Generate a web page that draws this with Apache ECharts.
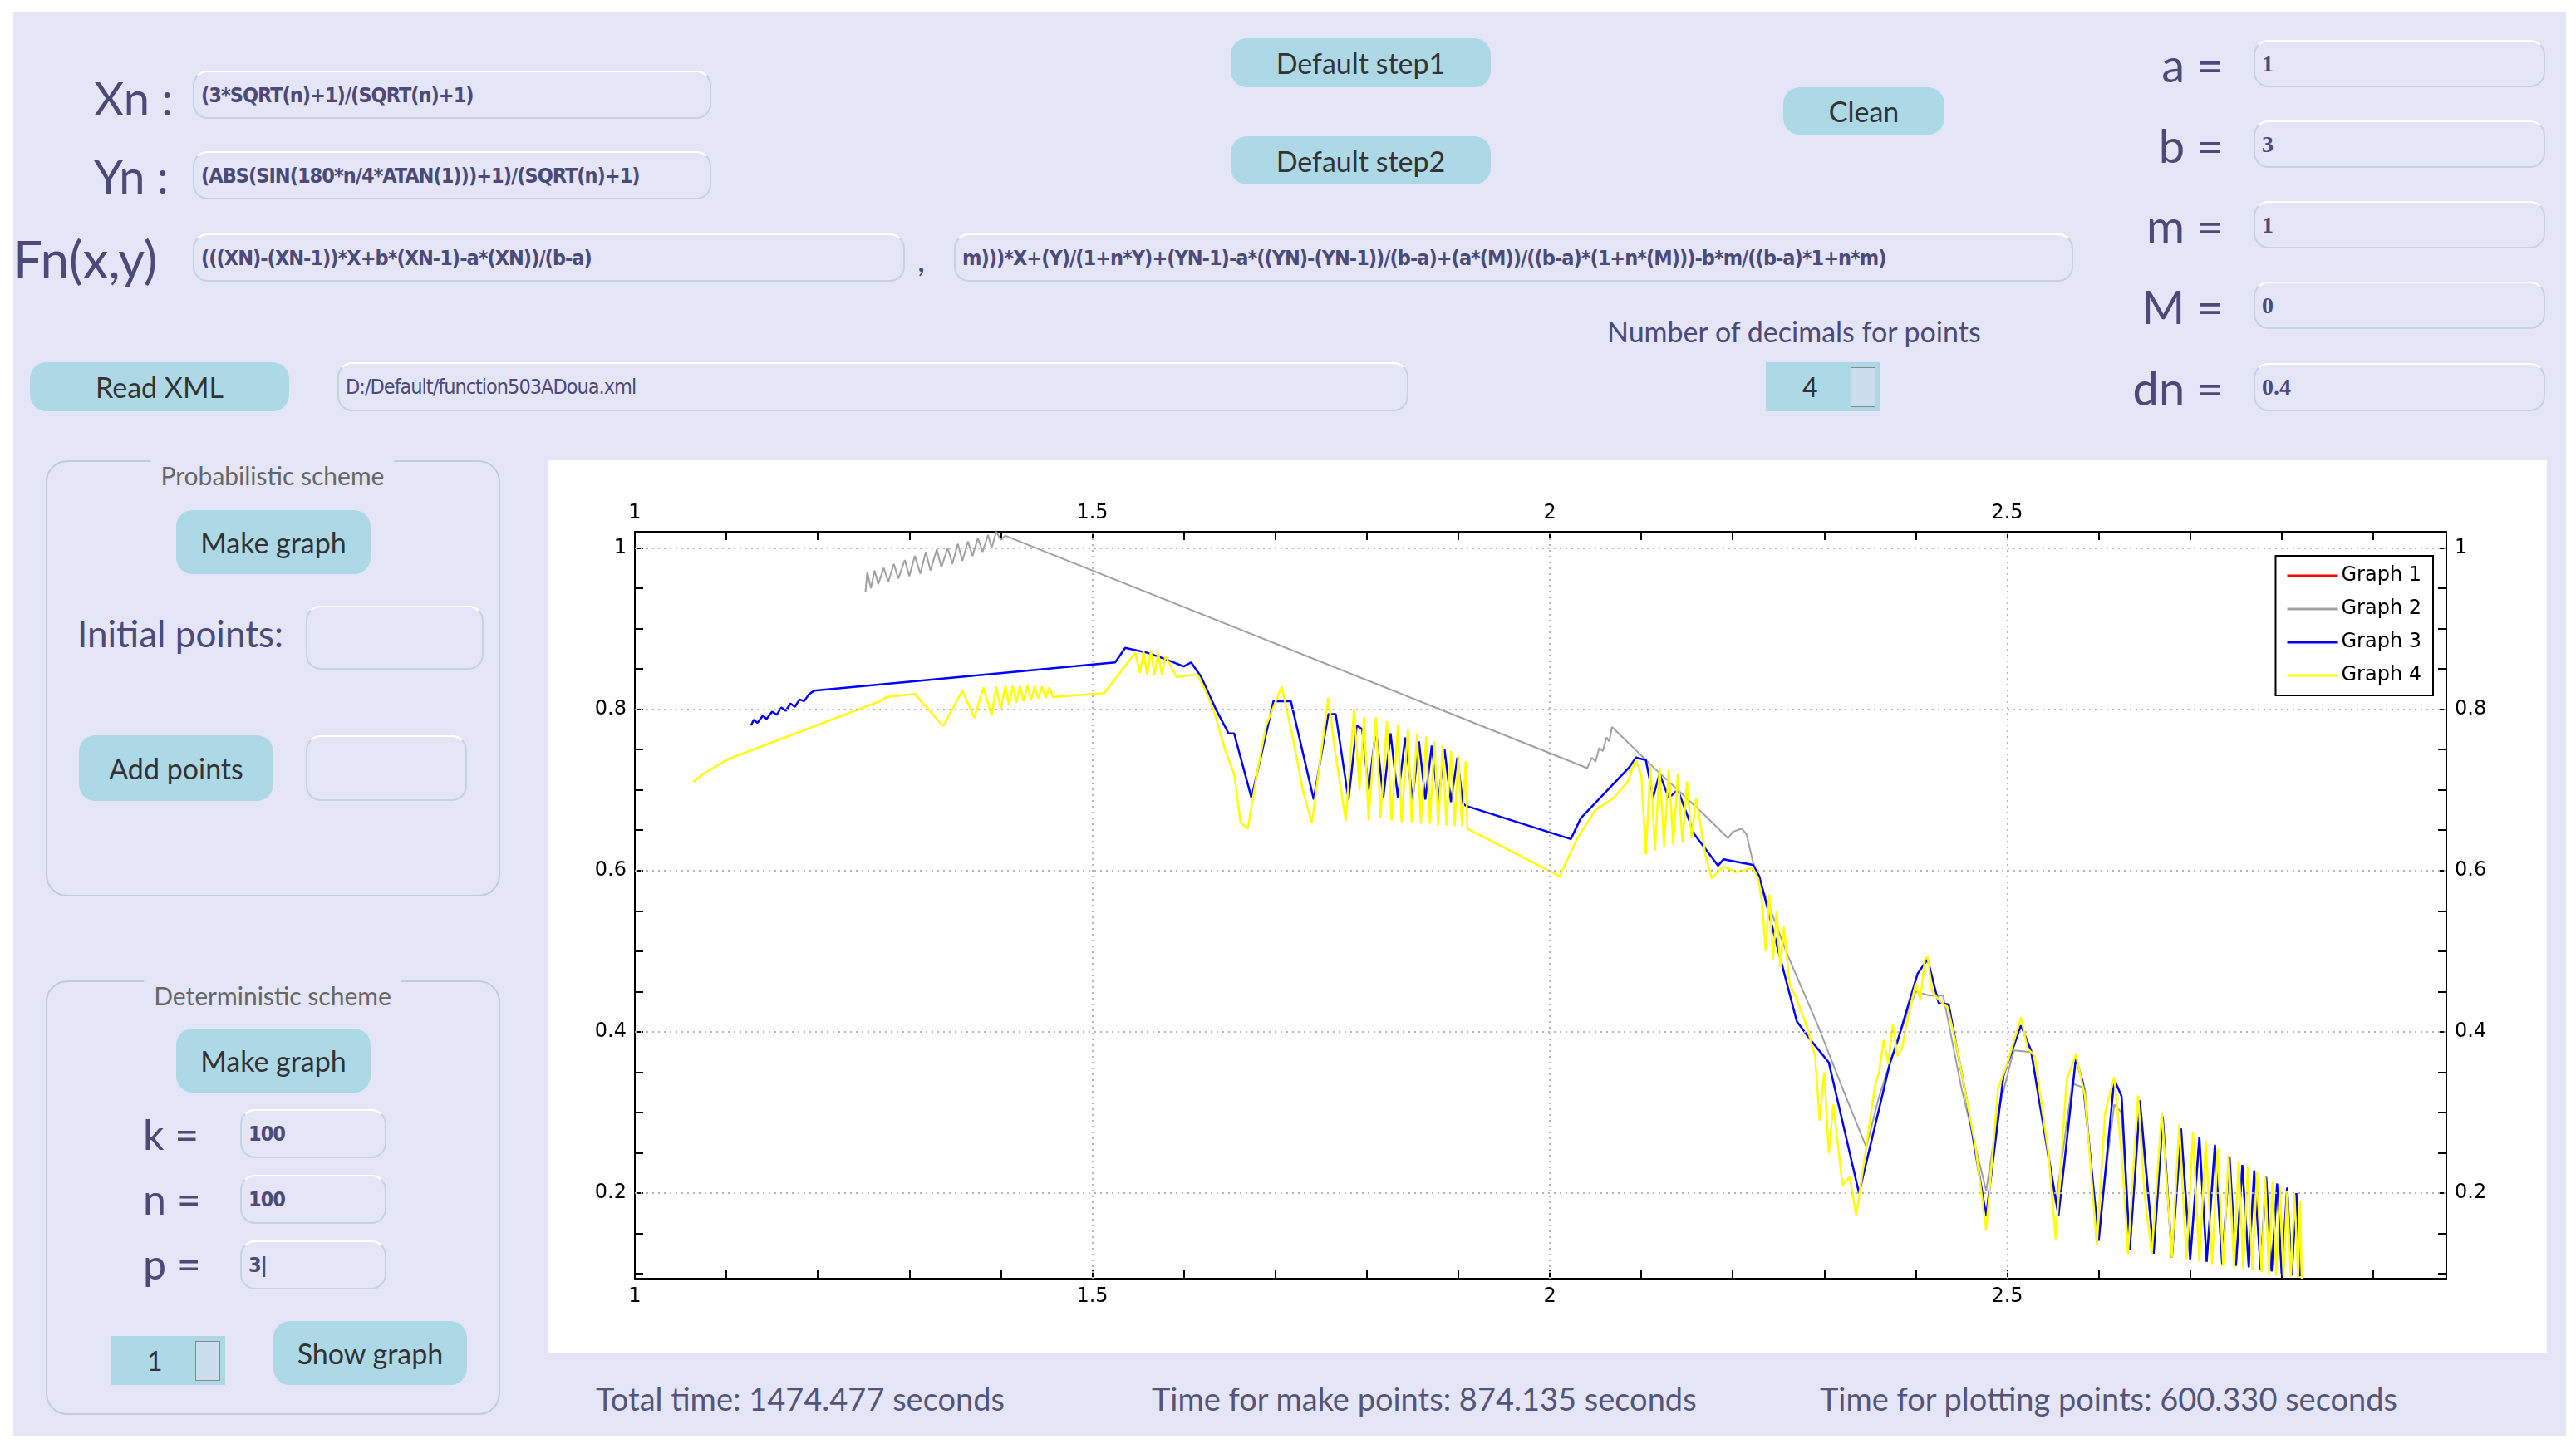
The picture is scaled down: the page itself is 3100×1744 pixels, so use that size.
<!DOCTYPE html>
<html>
<head>
<meta charset="utf-8">
<script src="https://cdn.jsdelivr.net/npm/echarts@6/dist/echarts.min.js"></script>
<style>
    body { margin: 0; width: 3100px; height: 1744px; background: #fff; position: relative; overflow: hidden;
        font-family: Lato, "Open Sans", sans-serif; color: #4b4a78; }
    .panel { position: absolute; left: 16px; top: 14px; width: 3072px; height: 1714px; background: #e5e5f8; }
    .abs { position: absolute; }
    .lbl { position: absolute; font-size: 56px; line-height: 1; white-space: nowrap; }
    .box { position: absolute; border: 2px solid #c5d3dd; border-top-color: #fff; border-radius: 18px;
        background: #e5e5f8; box-sizing: border-box; font-family: "DejaVu Sans Condensed", "Liberation Sans Narrow", sans-serif;
        font-weight: bold; font-size: 25px; letter-spacing: -1px; padding-left: 8px; display: flex; align-items: center; white-space: nowrap; overflow: hidden; }
    .num { font-family: "Liberation Serif", "DejaVu Serif", serif; font-size: 28px; letter-spacing: 0; }
    .btn { position: absolute; background: #add8e6; border-radius: 20px; font-size: 34px; color: #333;
        display: flex; align-items: center; justify-content: center; }
    .group { position: absolute; border: 2px solid #c0cdd6; border-radius: 26px; box-sizing: border-box; }
    .gtitle { position: absolute; font-size: 30px; background: #e5e5f8; padding: 0 12px; transform: translateX(-50%); color: #666; }
    .spin { position: absolute; background: #add8e6; font-size: 32px; color: #333; }
    .foot { position: absolute; top: 1660px; font-size: 38px; color: #55557a; white-space: nowrap; }
</style>
</head>
<body>
<div class="panel"></div>

<div class="lbl" style="left:113px;top:90px;">Xn :</div>
<div class="box" style="left:232px;top:85px;width:624px;height:58px;">(3*SQRT(n)+1)/(SQRT(n)+1)</div>
<div class="lbl" style="left:113px;top:184px;">Yn :</div>
<div class="box" style="left:232px;top:182px;width:624px;height:58px;">(ABS(SIN(180*n/4*ATAN(1)))+1)/(SQRT(n)+1)</div>
<div class="lbl" style="left:16px;top:280px;font-size:62px;">Fn(x,y)</div>
<div class="box" style="left:232px;top:281px;width:857px;height:58px;">(((XN)-(XN-1))*X+b*(XN-1)-a*(XN))/(b-a)</div>
<div class="lbl" style="left:1104px;top:292px;font-size:40px;">,</div>
<div class="box" style="left:1148px;top:281px;width:1347px;height:58px;">m)))*X+(Y)/(1+n*Y)+(YN-1)-a*((YN)-(YN-1))/(b-a)+(a*(M))/((b-a)*(1+n*(M)))-b*m/((b-a)*1+n*m)</div>

<div class="btn" style="left:1481px;top:46px;width:313px;height:59px;">Default step1</div>
<div class="btn" style="left:1481px;top:164px;width:313px;height:58px;">Default step2</div>
<div class="btn" style="left:2146px;top:105px;width:194px;height:57px;">Clean</div>

<div class="lbl" style="right:424px;top:50px;">a =</div>
<div class="box num" style="left:2712px;top:48px;width:351px;height:57px;">1</div>
<div class="lbl" style="right:424px;top:147px;">b =</div>
<div class="box num" style="left:2712px;top:145px;width:351px;height:57px;">3</div>
<div class="lbl" style="right:424px;top:244px;">m =</div>
<div class="box num" style="left:2712px;top:242px;width:351px;height:57px;">1</div>
<div class="lbl" style="right:424px;top:341px;">M =</div>
<div class="box num" style="left:2712px;top:339px;width:351px;height:57px;">0</div>
<div class="lbl" style="right:424px;top:439px;">dn =</div>
<div class="box num" style="left:2712px;top:437px;width:351px;height:58px;">0.4</div>

<div class="abs" style="left:1934px;top:378px;font-size:34px;">Number of decimals for points</div>
<div class="spin" style="left:2125px;top:436px;width:138px;height:59px;">
    <span class="abs" style="left:44px;top:10px;">4</span>
    <div class="abs" style="right:6px;top:6px;width:28px;height:46px;border:1px solid #888;background:#cde;"></div>
</div>

<div class="btn" style="left:36px;top:436px;width:312px;height:59px;">Read XML</div>
<div class="box" style="left:406px;top:436px;width:1289px;height:59px;font-weight:normal;font-size:25px;">D:/Default/function503ADoua.xml</div>

<div class="group" style="left:55px;top:554px;width:547px;height:525px;"></div>
<div class="gtitle" style="left:328px;top:554px;">Probabilistic scheme</div>
<div class="btn" style="left:212px;top:614px;width:234px;height:77px;">Make graph</div>
<div class="lbl" style="left:93px;top:740px;font-size:44px;">Initial points:</div>
<div class="box" style="left:368px;top:729px;width:214px;height:77px;"></div>
<div class="btn" style="left:95px;top:885px;width:234px;height:79px;">Add points</div>
<div class="box" style="left:368px;top:885px;width:194px;height:79px;"></div>

<div class="group" style="left:55px;top:1180px;width:547px;height:523px;"></div>
<div class="gtitle" style="left:328px;top:1180px;">Deterministic scheme</div>
<div class="btn" style="left:212px;top:1238px;width:234px;height:77px;">Make graph</div>
<div class="lbl" style="left:172px;top:1340px;font-size:50px;">k =</div>
<div class="box" style="left:289px;top:1335px;width:176px;height:59px;">100</div>
<div class="lbl" style="left:172px;top:1418px;font-size:50px;">n =</div>
<div class="box" style="left:289px;top:1414px;width:176px;height:59px;">100</div>
<div class="lbl" style="left:172px;top:1496px;font-size:50px;">p =</div>
<div class="box" style="left:289px;top:1493px;width:176px;height:59px;">3|</div>
<div class="spin" style="left:133px;top:1608px;width:138px;height:59px;">
    <span class="abs" style="left:44px;top:10px;">1</span>
    <div class="abs" style="right:6px;top:6px;width:28px;height:46px;border:1px solid #888;background:#cde;"></div>
</div>
<div class="btn" style="left:329px;top:1590px;width:233px;height:77px;">Show graph</div>

<div id="chart" class="abs" style="left:659px;top:554px;width:2406px;height:1074px;background:#fff;"></div>

<div class="foot" style="left:717px;">Total time: 1474.477 seconds</div>
<div class="foot" style="left:1386px;">Time for make points: 874.135 seconds</div>
<div class="foot" style="left:2190px;">Time for plotting points: 600.330 seconds</div>

<script>
const seriesNames = ['Graph 1', 'Graph 2', 'Graph 3', 'Graph 4'];
const seriesColors = ['#ff0000', '#a0a0a0', '#0000ff', '#ffff00'];

const xLabels = [1, 1.5, 2, 2.5];
const xTicks = [1, 1.1, 1.2, 1.3, 1.4, 1.5, 1.6, 1.7, 1.8, 1.9, 2, 2.1, 2.2, 2.3, 2.4, 2.5, 2.6, 2.7, 2.8, 2.9];
const yLabels = [0.2, 0.4, 0.6, 0.8, 1];
const yTicks = [0.1, 0.15, 0.2, 0.25, 0.3, 0.35, 0.4, 0.45, 0.5, 0.55, 0.6, 0.65, 0.7, 0.75, 0.8, 0.85, 0.9, 0.95, 1];

const graph1 = [];

const graph2 = [
    [1.252,0.945],[1.254,0.97],[1.258,0.95],[1.262,0.972],[1.266,0.955],[1.272,0.975],[1.277,0.958],[1.283,0.98],
    [1.288,0.962],[1.295,0.985],[1.30,0.965],[1.306,0.99],[1.312,0.968],[1.318,0.995],[1.323,0.972],[1.33,0.998],
    [1.335,0.976],[1.342,1.0],[1.347,0.98],[1.353,1.005],[1.358,0.984],[1.364,1.008],[1.369,0.99],[1.375,1.012],
    [1.38,0.995],[1.386,1.016],[1.39,1.0],[1.395,1.02],[1.40,1.01],[1.405,1.015],
    [2.041,0.727],[2.046,0.74],[2.05,0.735],[2.054,0.752],[2.058,0.748],[2.062,0.765],[2.065,0.76],[2.068,0.778],
    [2.117,0.724],[2.14,0.70],[2.17,0.668],[2.195,0.64],[2.20,0.648],[2.21,0.652],[2.215,0.645],[2.222,0.611],
    [2.24,0.555],[2.26,0.495],[2.293,0.408],[2.32,0.33],[2.346,0.257],[2.36,0.32],[2.38,0.39],[2.40,0.45],
    [2.415,0.445],[2.43,0.445],[2.45,0.33],[2.477,0.203],[2.49,0.3],[2.507,0.377],[2.526,0.375],[2.553,0.187],
    [2.571,0.336],[2.585,0.33],[2.598,0.136],[2.617,0.31],[2.625,0.30],[2.634,0.13],[2.645,0.3],[2.66,0.125],
    [2.67,0.285],[2.68,0.12],[2.69,0.27],[2.70,0.118],[2.71,0.26],[2.718,0.115],[2.727,0.25],[2.735,0.112],
    [2.743,0.24],[2.75,0.11],[2.757,0.232],[2.764,0.108],[2.77,0.225],[2.777,0.105],[2.783,0.218],[2.789,0.103],
    [2.795,0.21],[2.80,0.10],[2.806,0.205],[2.811,0.098],[2.816,0.20],[2.82,0.097]
];

const graph3 = [
    [1.127,0.78],[1.13,0.787],[1.134,0.783],[1.14,0.792],[1.144,0.788],[1.15,0.797],[1.155,0.793],[1.16,0.802],
    [1.165,0.798],[1.17,0.807],[1.175,0.803],[1.18,0.812],[1.185,0.81],[1.19,0.818],[1.196,0.823],
    [1.525,0.858],[1.536,0.876],[1.56,0.87],[1.58,0.862],[1.60,0.853],[1.608,0.858],[1.619,0.84],[1.635,0.80],
    [1.649,0.77],[1.655,0.77],[1.674,0.69],[1.698,0.81],[1.717,0.81],[1.742,0.688],[1.758,0.794],[1.766,0.794],
    [1.78,0.688],[1.789,0.78],[1.795,0.775],[1.802,0.70],[1.81,0.775],[1.818,0.69],[1.826,0.77],[1.834,0.69],
    [1.842,0.765],[1.85,0.688],[1.857,0.76],[1.864,0.688],[1.871,0.755],[1.878,0.685],[1.885,0.75],[1.892,0.685],
    [1.899,0.74],[1.905,0.683],[1.909,0.68],
    [2.023,0.639],[2.034,0.665],[2.087,0.728],[2.094,0.74],[2.105,0.737],[2.113,0.691],[2.12,0.72],[2.13,0.69],
    [2.14,0.70],[2.158,0.645],[2.184,0.606],[2.19,0.614],[2.222,0.607],[2.229,0.593],[2.25,0.50],[2.27,0.413],
    [2.285,0.39],[2.305,0.362],[2.338,0.2],[2.372,0.362],[2.38,0.388],[2.402,0.472],[2.413,0.49],[2.425,0.436],
    [2.436,0.434],[2.455,0.32],[2.477,0.172],[2.496,0.346],[2.515,0.408],[2.526,0.377],[2.556,0.172],[2.575,0.367],
    [2.583,0.336],[2.60,0.141],[2.617,0.341],[2.625,0.32],[2.634,0.13],[2.645,0.315],[2.66,0.125],[2.67,0.295],
    [2.68,0.12],[2.69,0.28],[2.70,0.118],[2.71,0.27],[2.718,0.115],[2.727,0.26],[2.735,0.112],[2.743,0.245],
    [2.75,0.11],[2.757,0.235],[2.764,0.108],[2.77,0.228],[2.777,0.105],[2.783,0.22],[2.789,0.103],[2.795,0.212],
    [2.80,0.10],[2.806,0.207],[2.811,0.098],[2.816,0.20],[2.82,0.097]
];

const graph4 = [
    [1.064,0.71],[1.075,0.72],[1.102,0.738],[1.268,0.81],[1.275,0.815],[1.306,0.819],[1.337,0.779],[1.358,0.823],
    [1.371,0.789],[1.381,0.827],[1.39,0.792],[1.395,0.828],[1.40,0.80],[1.405,0.829],[1.409,0.805],[1.413,0.829],
    [1.417,0.808],[1.421,0.829],[1.425,0.81],[1.429,0.829],[1.433,0.812],[1.437,0.828],[1.441,0.813],[1.445,0.828],
    [1.449,0.814],[1.453,0.827],[1.457,0.815],[1.513,0.82],[1.547,0.87],[1.552,0.845],[1.556,0.872],[1.56,0.842],
    [1.564,0.872],[1.568,0.842],[1.572,0.87],[1.576,0.843],[1.58,0.866],[1.592,0.84],[1.615,0.843],[1.625,0.82],
    [1.634,0.794],[1.645,0.75],[1.655,0.72],[1.662,0.66],[1.67,0.652],[1.68,0.72],[1.69,0.78],[1.707,0.828],
    [1.72,0.76],[1.73,0.70],[1.74,0.659],[1.758,0.814],[1.765,0.75],[1.777,0.662],[1.786,0.80],[1.792,0.70],
    [1.797,0.79],[1.802,0.662],[1.81,0.79],[1.815,0.665],[1.822,0.785],[1.827,0.662],[1.834,0.78],[1.838,0.66],
    [1.845,0.775],[1.849,0.66],[1.855,0.77],[1.859,0.658],[1.865,0.766],[1.869,0.658],[1.874,0.76],[1.878,0.656],
    [1.883,0.755],[1.887,0.656],[1.892,0.748],[1.896,0.655],[1.90,0.742],[1.904,0.655],[1.908,0.735],[1.91,0.652],
    [2.011,0.593],[2.03,0.64],[2.05,0.675],[2.07,0.69],[2.085,0.71],[2.094,0.737],[2.10,0.72],[2.105,0.62],
    [2.11,0.73],[2.115,0.625],[2.12,0.728],[2.125,0.63],[2.13,0.725],[2.135,0.632],[2.14,0.72],[2.145,0.635],
    [2.15,0.71],[2.155,0.64],[2.16,0.69],[2.17,0.62],[2.177,0.59],[2.19,0.605],[2.203,0.598],[2.222,0.603],
    [2.228,0.59],[2.232,0.56],[2.236,0.5],[2.24,0.57],[2.244,0.49],[2.248,0.55],[2.252,0.48],[2.256,0.53],
    [2.262,0.46],[2.27,0.44],[2.28,0.41],[2.29,0.37],[2.295,0.29],[2.30,0.35],[2.305,0.25],[2.31,0.31],
    [2.32,0.21],[2.328,0.22],[2.335,0.172],[2.345,0.25],[2.355,0.33],[2.36,0.35],[2.365,0.39],[2.37,0.36],
    [2.375,0.41],[2.38,0.37],[2.385,0.38],[2.392,0.42],[2.40,0.46],[2.405,0.44],[2.41,0.49],[2.413,0.493],
    [2.418,0.45],[2.425,0.44],[2.435,0.43],[2.445,0.38],[2.455,0.32],[2.465,0.26],[2.477,0.154],[2.49,0.33],
    [2.5,0.36],[2.515,0.418],[2.522,0.38],[2.53,0.37],[2.545,0.25],[2.553,0.143],[2.565,0.34],[2.575,0.372],
    [2.585,0.32],[2.598,0.136],[2.607,0.3],[2.617,0.344],[2.625,0.25],[2.632,0.125],[2.643,0.321],[2.65,0.2],
    [2.658,0.125],[2.669,0.30],[2.68,0.12],[2.688,0.285],[2.696,0.118],[2.703,0.275],[2.71,0.115],[2.717,0.265],
    [2.724,0.112],[2.73,0.255],[2.736,0.11],[2.742,0.247],[2.748,0.108],[2.753,0.24],[2.758,0.106],[2.763,0.233],
    [2.768,0.104],[2.773,0.226],[2.778,0.102],[2.782,0.22],[2.786,0.1],[2.79,0.214],[2.794,0.098],[2.798,0.208],
    [2.802,0.097],[2.806,0.203],[2.81,0.096],[2.814,0.198],[2.818,0.095],[2.82,0.19],[2.822,0.094]
];

const graphData = [graph1, graph2, graph3, graph4];
const lineWidths = [2, 2, 2.5, 2.5];

window.onload = () => {
    let chart = echarts.init(document.getElementById('chart'));

    let makeAxis = (pos, min, max, labels, ticks) => ({
        type: 'value',
        position: pos,
        min: min,
        max: max,
        axisLine: { show: true, onZero: false, lineStyle: { color: '#000', width: 2 } },
        axisTick: { show: true, inside: true, length: 10, customValues: ticks, lineStyle: { color: '#000', width: 2 } },
        axisLabel: { customValues: labels, color: '#000', fontSize: 24, fontFamily: 'DejaVu Sans', margin: 10 },
        splitLine: { show: false }
    });

    // grid lines are drawn as dotted mark lines at the labelled values only
    let gridLine = { type: [2, 5], color: '#b4b4b4', width: 2 };
    let series = seriesNames.map((name, i) => ({
        name: name,
        type: 'line',
        data: graphData[i],
        showSymbol: false,
        symbol: 'none',
        animation: false,
        lineStyle: { color: seriesColors[i], width: lineWidths[i] },
        itemStyle: { color: seriesColors[i] }
    }));
    series.unshift({
        type: 'line',
        data: [],
        silent: true,
        markLine: {
            silent: true,
            symbol: 'none',
            label: { show: false },
            lineStyle: gridLine,
            data: xLabels.slice(1).map(v => ({ xAxis: v })).concat(yLabels.map(v => ({ yAxis: v })))
        }
    });

    chart.setOption({
        animation: false,
        grid: { left: 105, right: 121, top: 86, bottom: 89 },
        legend: {
            data: seriesNames,
            orient: 'vertical',
            right: 137,
            top: 115,
            backgroundColor: '#fff',
            borderColor: '#000',
            borderWidth: 2,
            borderRadius: 0,
            padding: [12, 14, 12, 14],
            itemGap: 16,
            itemWidth: 60,
            itemHeight: 3,
            icon: 'rect',
            textStyle: { fontSize: 24, fontFamily: 'DejaVu Sans', color: '#000' }
        },
        xAxis: [
            makeAxis('bottom', 1, 2.98, xLabels, xTicks),
            makeAxis('top', 1, 2.98, xLabels, xTicks)
        ],
        yAxis: [
            makeAxis('left', 0.094, 1.02, yLabels, yTicks),
            makeAxis('right', 0.094, 1.02, yLabels, yTicks)
        ],
        series: series
    });
};
</script>
</body>
</html>
